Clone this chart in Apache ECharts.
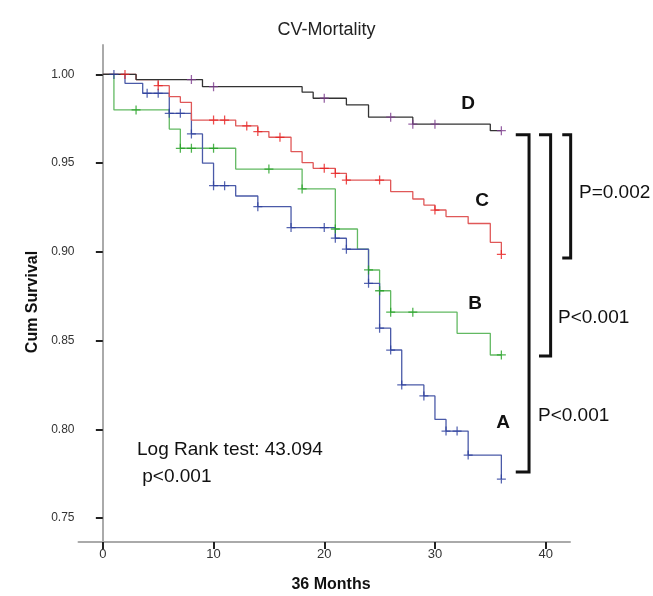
<!DOCTYPE html>
<html>
<head>
<meta charset="utf-8">
<script src="https://cdn.jsdelivr.net/npm/echarts@6/dist/echarts.min.js"></script>
<style>
  html, body { margin: 0; padding: 0; background: #fff; }
  #main { width: 653px; height: 596px; }
</style>
</head>
<body>
<div id="main"></div>
<script>
// step points: [month, survival after the drop]
var stepsA = [[0,1],[2,0.995],[3.6,0.9894],[6,0.9781],[8,0.9665],[9,0.95],[10,0.9373],[12,0.9315],[14,0.9255],[17,0.9137],[21,0.9077],[22,0.9015],[24,0.8823],[25,0.857],[26,0.8447],[27,0.825],[29,0.8188],[30,0.8056],[31,0.799],[33,0.7855],[36,0.772]];
var stepsB = [[0,1],[1,0.98],[6,0.9692],[7,0.9584],[12,0.9467],[18,0.9355],[21,0.9129],[23,0.9015],[24,0.8898],[25,0.8781],[26,0.866],[32,0.8541],[35,0.8419],[36,0.8419]];
var stepsC = [[0,1],[3,0.9971],[5,0.9937],[6,0.9875],[7,0.9843],[8,0.9743],[12,0.971],[14,0.9678],[15,0.9646],[17,0.9565],[18,0.9503],[19,0.9471],[21,0.9443],[22,0.9405],[26,0.934],[28,0.9298],[29,0.9264],[30,0.9236],[31,0.9199],[33,0.916],[35,0.9054],[36,0.8986]];
var stepsD = [[0,1],[3,0.9971],[9,0.9931],[18,0.99],[19,0.9866],[22,0.9828],[24,0.9759],[28,0.972],[35,0.9683],[36,0.9683]];

// censored months
var censA = [1,4,5,6,7,8,10,11,14,17,20,21,22,24,25,26,27,29,31,32,33,36];
var censB = [3,7,8,10,15,18,21,24,25,26,28,36];
var censC = [2,5,10,11,13,14,16,20,21,22,25,30,36];
var censD = [8,10,20,26,28,30,36];

var xTicks = [0, 10, 20, 30, 40];
var yTicks = [0.75, 0.80, 0.85, 0.90, 0.95, 1.00];

// brackets: [x left, x right, top value, bottom value]
var brackets = [[37.3, 38.5, 0.966, 0.776], [39.4, 40.45, 0.966, 0.8413], [41.5, 42.26, 0.966, 0.8966]];

function survAt(steps, t) {
  var v = steps[0][1];
  for (var i = 0; i < steps.length; i++) {
    if (steps[i][0] <= t) v = steps[i][1];
  }
  return v;
}
function censPoints(steps, months) {
  return months.map(function (m) { return [m, survAt(steps, m)]; });
}

var FONT = 'Liberation Sans';
var cross = 'path://M4.3,0h1.4v10h-1.4zM0,4.3h10v1.4h-10z';

function curve(steps, color) {
  return {
    type: 'line', step: 'end', data: steps, symbol: 'none',
    lineStyle: { color: color, width: 1.3 }, animation: false, z: 3
  };
}
function ticks(steps, months, color) {
  return {
    type: 'scatter', data: censPoints(steps, months), symbol: cross, symbolSize: 9,
    itemStyle: { color: color }, animation: false, z: 4
  };
}

var chart = echarts.init(document.getElementById('main'));
var option = {
  backgroundColor: '#fff',
  animation: false,
  title: {
    text: 'CV-Mortality', left: 'center', top: 16,
    textStyle: { fontFamily: FONT, fontSize: 18, fontWeight: 'normal', color: '#222' }
  },
  grid: { left: 78.5, right: 83, top: 45, bottom: 54 },
  xAxis: {
    type: 'value', min: -2.2, max: 42.2,
    axisLine: { lineStyle: { color: '#aaa', width: 2 } },
    axisTick: { customValues: xTicks, length: 7, lineStyle: { color: '#222', width: 2 } },
    axisLabel: { customValues: xTicks, fontFamily: FONT, fontSize: 13, color: '#333', margin: 6 },
    splitLine: { show: false }
  },
  yAxis: {
    type: 'value', min: 0.7365, max: 1.0166,
    axisLine: { show: true, lineStyle: { color: '#aaa', width: 2 } },
    axisTick: { show: true, customValues: yTicks, length: 7, lineStyle: { color: '#222', width: 2 } },
    axisLabel: {
      customValues: yTicks, fontFamily: FONT, fontSize: 12, color: '#333', margin: 4,
      formatter: function (v) { return v.toFixed(2); }
    },
    splitLine: { show: false }
  },
  series: [
    curve(stepsB, '#62b962'),
    curve(stepsA, '#4a5aa8'),
    curve(stepsC, '#e05858'),
    curve(stepsD, '#333'),
    ticks(stepsB, censB, '#22a022'),
    ticks(stepsA, censA, '#2c3f9e'),
    ticks(stepsC, censC, '#e82020'),
    ticks(stepsD, censD, '#7d3c8f'),
    {
      type: 'custom', data: brackets, clip: false, animation: false, silent: true,
      renderItem: function (params, api) {
        var tl = api.coord([api.value(0), api.value(2)]);
        var tr = api.coord([api.value(1), api.value(2)]);
        var br = api.coord([api.value(1), api.value(3)]);
        var bl = api.coord([api.value(0), api.value(3)]);
        return {
          type: 'polyline',
          shape: { points: [tl, tr, br, bl] },
          style: { stroke: '#111', lineWidth: 3, fill: null }
        };
      }
    }
  ],
  graphic: [
    { type: 'text', x: 33, y: 302, rotation: Math.PI / 2,
      style: { text: 'Cum Survival', font: 'bold 16px ' + FONT, fill: '#111', align: 'center', verticalAlign: 'middle' } },
    { type: 'text', x: 331, y: 585,
      style: { text: '36 Months', font: 'bold 16px ' + FONT, fill: '#111', align: 'center', verticalAlign: 'middle' } },
    { type: 'text', x: 137, y: 450,
      style: { text: 'Log Rank test: 43.094', font: '19px ' + FONT, fill: '#111', verticalAlign: 'middle' } },
    { type: 'text', x: 137, y: 477,
      style: { text: ' p<0.001', font: '19px ' + FONT, fill: '#111', verticalAlign: 'middle' } },
    { type: 'text', x: 468, y: 104,
      style: { text: 'D', font: 'bold 19px ' + FONT, fill: '#111', align: 'center', verticalAlign: 'middle' } },
    { type: 'text', x: 482, y: 201,
      style: { text: 'C', font: 'bold 19px ' + FONT, fill: '#111', align: 'center', verticalAlign: 'middle' } },
    { type: 'text', x: 475, y: 304,
      style: { text: 'B', font: 'bold 19px ' + FONT, fill: '#111', align: 'center', verticalAlign: 'middle' } },
    { type: 'text', x: 503, y: 423,
      style: { text: 'A', font: 'bold 19px ' + FONT, fill: '#111', align: 'center', verticalAlign: 'middle' } },
    { type: 'text', x: 579, y: 193,
      style: { text: 'P=0.002', font: '19px ' + FONT, fill: '#111', verticalAlign: 'middle' } },
    { type: 'text', x: 558, y: 318,
      style: { text: 'P<0.001', font: '19px ' + FONT, fill: '#111', verticalAlign: 'middle' } },
    { type: 'text', x: 538, y: 416,
      style: { text: 'P<0.001', font: '19px ' + FONT, fill: '#111', verticalAlign: 'middle' } }
  ]
};
chart.setOption(option);
</script>
</body>
</html>
